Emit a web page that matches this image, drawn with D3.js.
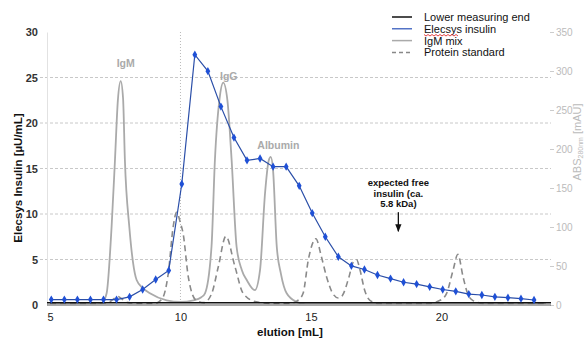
<!DOCTYPE html>
<html>
<head>
<meta charset="utf-8">
<script src="https://cdn.jsdelivr.net/npm/d3@7"></script>
<style>
  body { margin: 0; background: #fff; }
  text { font-family: "Liberation Sans", Arial, sans-serif; }
</style>
</head>
<body>
<script>
// fractions (mL) and Elecsys insulin (µU/mL)
var fractionMl = [5.05, 5.55, 6.05, 6.55, 7.05, 7.55, 8.05, 8.55, 9.05, 9.55,
  10.05, 10.55, 11.05, 11.55, 12.05, 12.55, 13.05, 13.55, 14.05, 14.55,
  15.05, 15.55, 16.05, 16.55, 17.05, 17.55, 18.05, 18.55, 19.05, 19.55,
  20.05, 20.55, 21.05, 21.55, 22.05, 22.55, 23.05, 23.55];
var insulin = [0.6, 0.6, 0.6, 0.6, 0.6, 0.6, 0.9, 1.7, 2.8, 3.8,
  13.3, 27.5, 25.7, 21.8, 18.4, 15.9, 16.1, 15.2, 15.2, 13.1,
  10.1, 7.5, 5.3, 4.3, 3.9, 3.3, 2.9, 2.5, 2.3, 2.0,
  1.7, 1.5, 1.2, 1.1, 0.9, 0.8, 0.7, 0.55];

// UV trace of the IgM mix run [mL, mAU]
var igmMix = [[5.0,1],[6.8,1],[7.0,3],[7.17,15],[7.36,100],[7.49,186],[7.6,262],[7.71,287],
  [7.8,265],[7.87,186],[8.04,100],[8.18,55],[8.32,32],[8.55,22],[8.83,15],[9.47,6],[10.0,4],
  [10.5,6],[10.8,10],[10.94,15],[11.19,75],[11.32,186],[11.5,265],[11.64,285],[11.8,262],
  [11.96,186],[12.15,75],[12.35,45],[12.54,32],[12.85,19],[13.05,45],[13.24,143],[13.38,185],
  [13.46,190],[13.55,172],[13.69,75],[13.85,40],[14.07,15],[14.45,4],[14.8,1],[24.0,1]];

// UV trace of the protein standard [mL, mAU]
var proteinStd = [[5.0,2],[6.5,2],[7.2,3],[7.45,8],[7.6,11],[7.75,8],[8.0,3],[8.5,2],[9.0,2],
  [9.3,8],[9.53,40],[9.72,100],[9.85,119],[10.0,105],[10.1,92],[10.3,36],[10.6,6],[10.9,3],
  [11.2,15],[11.45,49],[11.74,88],[12.09,49],[12.4,15],[12.9,4],[13.5,2],[14.2,2],[14.5,6],
  [14.7,15],[14.9,58],[15.19,85],[15.4,62],[15.6,36],[15.85,14],[16.05,9],[16.2,12],[16.45,35],
  [16.62,55],[16.75,58],[16.88,45],[17.05,20],[17.26,6],[17.6,2],[19.5,2],[19.95,6],[20.2,15],
  [20.45,45],[20.63,65],[20.83,36],[21.0,15],[21.2,6],[21.6,2],[24.0,2]];

var lowerMeasuringEnd = 0.25;
var voidMarkerMl = 10;

var xTicks = [5, 10, 15, 20];
var yTicks = [0, 5, 10, 15, 20, 25, 30];
var gridTicks = [5, 10, 15, 20, 25];
var absTicks = [0, 50, 100, 150, 200, 250, 300, 350];

// peak labels [text, mL, mAU]
var peakLabels = [["IgM", 7.9, 305], ["IgG", 11.85, 288], ["Albumin", 13.75, 200]];

var legendItems = [
  { name: "Lower measuring end", color: "#111", dash: null, width: 1.5 },
  { name: "Elecsys insulin", color: "#2850b8", dash: null, width: 1.2 },
  { name: "IgM mix", color: "#aaa", dash: null, width: 1.5 },
  { name: "Protein standard", color: "#888", dash: "4,3", width: 1.5 }
];

var width = 584, height = 342;

var x = d3.scaleLinear().domain([5, 24.2]).range([50, 551]);
var y = d3.scaleLinear().domain([0, 30]).range([305, 32]);
var yAbs = d3.scaleLinear().domain([0, 350]).range([305, 32]);

var svg = d3.select("body").append("svg")
  .attr("width", width)
  .attr("height", height);

svg.append("rect").attr("width", width).attr("height", height).attr("fill", "#fff");

// gridlines
svg.append("g").selectAll("line")
  .data(gridTicks)
  .enter().append("line")
  .attr("x1", 40).attr("x2", 551)
  .attr("y1", function(d) { return y(d); })
  .attr("y2", function(d) { return y(d); })
  .attr("stroke", "#c8c8c8")
  .attr("stroke-width", 1)
  .attr("stroke-dasharray", "3,2");

// dotted marker at 10 mL
svg.append("line")
  .attr("x1", x(voidMarkerMl)).attr("x2", x(voidMarkerMl))
  .attr("y1", y(30)).attr("y2", y(0))
  .attr("stroke", "#bbb")
  .attr("stroke-dasharray", "1,2");

// left axis
var yAxis = d3.axisLeft(y).tickValues(yTicks).tickSize(0).tickPadding(9);
var gy = svg.append("g").attr("transform", "translate(47,0)").call(yAxis);
gy.select(".domain").attr("stroke", "#e2e2e2");
gy.selectAll("text").attr("font-size", 11).attr("font-weight", "bold").attr("fill", "#333")
  .style("font-family", "Liberation Sans, Arial, sans-serif");

// right axis
var yAxisR = d3.axisRight(yAbs).tickValues(absTicks).tickSize(4).tickPadding(2);
var gr = svg.append("g").attr("transform", "translate(550,0)").call(yAxisR);
gr.select(".domain").remove();
gr.selectAll("line").attr("stroke", "#ccc");
gr.selectAll("text").attr("font-size", 10).attr("fill", "#bbb")
  .style("font-family", "Liberation Sans, Arial, sans-serif");

// x axis
var xAxis = d3.axisBottom(x).tickValues(xTicks).tickSize(0).tickPadding(8);
var gx = svg.append("g").attr("transform", "translate(0,305)").call(xAxis);
gx.select(".domain").attr("stroke", "#555").attr("d", "M47,0H551");
gx.selectAll("text").attr("font-size", 11).attr("fill", "#222")
  .style("font-family", "Liberation Sans, Arial, sans-serif");

// UV traces
var uvLine = d3.line()
  .x(function(d) { return x(d[0]); })
  .y(function(d) { return yAbs(d[1]); })
  .curve(d3.curveMonotoneX);

svg.append("path").datum(igmMix)
  .attr("d", uvLine)
  .attr("fill", "none")
  .attr("stroke", "#aaa")
  .attr("stroke-width", 1.8);

svg.append("path").datum(proteinStd)
  .attr("d", uvLine)
  .attr("fill", "none")
  .attr("stroke", "#8a8a8a")
  .attr("stroke-width", 1.6)
  .attr("stroke-dasharray", "6,4");

// lower measuring end
svg.append("line")
  .attr("x1", 47).attr("x2", 551)
  .attr("y1", y(lowerMeasuringEnd)).attr("y2", y(lowerMeasuringEnd))
  .attr("stroke", "#111").attr("stroke-width", 1.3);

// insulin series
var insData = fractionMl.map(function(d, i) { return [d, insulin[i]]; });

var insLine = d3.line()
  .x(function(d) { return x(d[0]); })
  .y(function(d) { return y(d[1]); });

svg.append("path").datum(insData)
  .attr("d", insLine)
  .attr("fill", "none")
  .attr("stroke", "#2a4ea8")
  .attr("stroke-width", 1.2);

svg.append("g").selectAll("path")
  .data(insData)
  .enter().append("path")
  .attr("d", d3.symbol().type(d3.symbolDiamond).size(20))
  .attr("transform", function(d) { return "translate(" + x(d[0]) + "," + y(d[1]) + ")"; })
  .attr("fill", "#1f50d6");

// peak labels
svg.append("g").selectAll("text")
  .data(peakLabels)
  .enter().append("text")
  .attr("x", function(d) { return x(d[1]); })
  .attr("y", function(d) { return yAbs(d[2]); })
  .attr("text-anchor", "middle")
  .attr("font-size", 10.5)
  .attr("font-weight", "bold")
  .attr("fill", "#aaa")
  .text(function(d) { return d[0]; });

// annotation: expected free insulin
var annX = 18.35;
var ann = svg.append("text")
  .attr("x", x(annX)).attr("y", 186)
  .attr("text-anchor", "middle")
  .attr("font-size", 9.5)
  .attr("font-weight", "bold")
  .attr("fill", "#111");
["expected free", "insulin (ca.", "5.8 kDa)"].forEach(function(t, i) {
  ann.append("tspan").attr("x", x(annX)).attr("dy", i === 0 ? 0 : 10.5).text(t);
});

svg.append("defs").append("marker")
  .attr("id", "arrow")
  .attr("viewBox", "0 0 10 10")
  .attr("refX", 9).attr("refY", 5)
  .attr("markerWidth", 6).attr("markerHeight", 6)
  .attr("orient", "auto")
  .append("path").attr("d", "M0,1L10,5L0,9Z").attr("fill", "#111");

svg.append("line")
  .attr("x1", x(annX)).attr("x2", x(annX))
  .attr("y1", y(10.2)).attr("y2", y(8.1))
  .attr("stroke", "#111").attr("stroke-width", 1.3)
  .attr("marker-end", "url(#arrow)");

// axis titles
svg.append("text")
  .attr("transform", "translate(22,178) rotate(-90)")
  .attr("text-anchor", "middle")
  .attr("font-size", 11.5)
  .attr("font-weight", "bold")
  .attr("fill", "#111")
  .text("Elecsys Insulin [µU/mL]");

var rt = svg.append("text")
  .attr("transform", "translate(581,142) rotate(-90)")
  .attr("text-anchor", "middle")
  .attr("font-size", 11)
  .attr("fill", "#bbb");
rt.append("tspan").text("ABS");
rt.append("tspan").attr("font-size", 7).attr("dy", 1.5).text("280nm");
rt.append("tspan").attr("dy", -1.5).text(" [mAU]");

svg.append("text")
  .attr("x", 290).attr("y", 336)
  .attr("text-anchor", "middle")
  .attr("font-size", 11.5)
  .attr("font-weight", "bold")
  .attr("fill", "#111")
  .text("elution [mL]");

// legend
var lg = svg.append("g").attr("transform", "translate(392,17)");
var rows = lg.selectAll("g")
  .data(legendItems)
  .enter().append("g")
  .attr("transform", function(d, i) { return "translate(0," + (i * 11.8) + ")"; });

rows.append("line")
  .attr("x1", 0).attr("x2", 20)
  .attr("stroke", function(d) { return d.color; })
  .attr("stroke-width", function(d) { return d.width; })
  .attr("stroke-dasharray", function(d) { return d.dash; });

rows.append("text")
  .attr("x", 32).attr("y", 4)
  .attr("font-size", 11)
  .attr("fill", "#111")
  .text(function(d) { return d.name; });

// spell-check squiggle under "Elecsys"
var sq = [];
for (var s = 0; s <= 34; s += 2) sq.push([424 + s, (s / 2) % 2 === 0 ? 34.5 : 36]);
svg.append("path")
  .attr("d", d3.line()(sq))
  .attr("fill", "none")
  .attr("stroke", "#e03030")
  .attr("stroke-width", 0.9);
</script>
</body>
</html>
